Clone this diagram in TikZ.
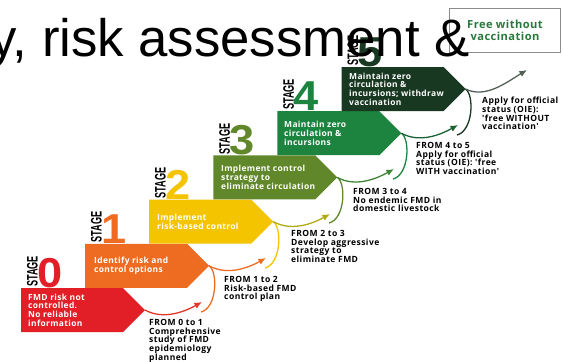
\documentclass[tikz,border=0pt]{standalone}
\usepackage{fontspec}
\setmainfont{Liberation Sans}
\newfontfamily\chevfont[LetterSpace=4]{Open Sans}
\newfontfamily\labfont[LetterSpace=5]{Open Sans}
\usetikzlibrary{arrows.meta}
\definecolor{s0}{RGB}{226,30,38}
\definecolor{s1}{RGB}{238,108,34}
\definecolor{s2}{RGB}{245,196,0}
\definecolor{s3}{RGB}{96,136,42}
\definecolor{s4}{RGB}{28,132,62}
\definecolor{s5}{RGB}{24,56,34}
\definecolor{ftxt}{RGB}{40,120,60}
\newcommand\chev[4]{%
  \fill[#3] (#1,#2-22) -- (#1+102,#2-22) -- (#1+124,#2) -- (#1+102,#2+22) -- (#1,#2+22) -- cycle;
  \coordinate (#4) at (#1+124,#2);}
\newcommand\stagelab[4]{%
  \node[stagew] (sw#4) at (#1+16.5,#2-23) {\scalebox{0.6}[1]{STAGE}};
  \node[digit, text=#3] (dg#4) at (#1+16,#2-22.5) {\scalebox{1.08}[1]{#4}};}
\begin{document}
\begin{tikzpicture}[x=0.03cm,y=-0.03cm,
  chevtext/.style={anchor=west, align=left, inner sep=0, text=white,
    font=\chevfont\bfseries\fontsize{7.2}{7.4}\selectfont},
  lab/.style={anchor=north west, align=left, inner sep=0,
    font=\labfont\bfseries\fontsize{7.3}{7.4}\selectfont},
  stagew/.style={rotate=90, anchor=base west, inner sep=0,
    font=\bfseries\fontsize{13}{13}\selectfont},
  digit/.style={anchor=base west, inner sep=0,
    font=\bfseries\fontsize{35.7}{36}\selectfont},
  rise/.style={line width=1.1pt, -{Latex[length=6.5pt,width=5.5pt]}},
  desc/.style={line width=1.1pt}]
\useasboundingbox (0,0) rectangle (563,361);
\fill[white] (0,0) rectangle (563,361);
% chevrons
\chev{21}{310}{s0}{t0}
\chev{85.1}{265.8}{s1}{t1}
\chev{149.2}{221.6}{s2}{t2}
\chev{213.3}{177.4}{s3}{t3}
\chev{277.4}{133.2}{s4}{t4}
\chev{341.5}{89}{s5}{t5}
% stage labels
\stagelab{21}{310}{s0}{0}
\stagelab{85.1}{265.8}{s1}{1}
\stagelab{149.2}{221.6}{s2}{2}
\stagelab{213.3}{177.4}{s3}{3}
\stagelab{277.4}{133.2}{s4}{4}
\stagelab{341.5}{89}{s5}{5}
% arrow end points
\coordinate (p0) at (202,302);
\coordinate (p1) at (266,258);
\coordinate (p2) at (330,214);
\coordinate (p3) at (394,169);
\coordinate (p4) at (458,125);
\coordinate (p5) at (527,70);
\coordinate (d1) at (201,312);
\coordinate (d2) at (265,268);
\coordinate (d3) at (329,223);
\coordinate (d4) at (393,179);
\coordinate (d5) at (457,135);
% descending curves
\draw[desc, s1] (t1) .. controls +(9,6) and +(16,-4) .. (d1);
\draw[desc, s2] (t2) .. controls +(9,6) and +(16,-4) .. (d2);
\draw[desc, s3] (t3) .. controls +(9,6) and +(16,-4) .. (d3);
\draw[desc, s4] (t4) .. controls +(9,6) and +(16,-4) .. (d4);
\draw[desc, s5] (t5) .. controls +(9,6) and +(16,-4) .. (d5);
% rising arrows
\draw[rise, s0!70!s1] (t0) .. controls +(18,10) and +(-18,10) .. (p0);
\draw[rise, s1] (t1) .. controls +(18,10) and +(-18,10) .. (p1);
\draw[rise, s2!55!s3] (t2) .. controls +(18,10) and +(-18,10) .. (p2);
\draw[rise, s3!50!s4] (t3) .. controls +(18,10) and +(-18,10) .. (p3);
\draw[rise, s4!55!s5] (t4) .. controls +(18,10) and +(-18,10) .. (p4);
\draw[rise, s5!45!gray] (t5) .. controls +(20,10) and +(-20,12) .. (p5);
% chevron texts
\node[chevtext] (c0) at (28,310) {FMD risk not\\controlled.\\No reliable\\information};
\node[chevtext] (c1) at (94,265.8) {Identify risk and\\control options};
\node[chevtext] (c2) at (157,221.6) {Implement\\risk-based control};
\node[chevtext] (c3) at (221,177.4) {Implement control\\strategy to\\eliminate circulation};
\node[chevtext] (c4) at (284,133.2) {Maintain zero\\circulation \&\\incursions};
\node[chevtext] (c5) at (349,89) {Maintain zero\\circulation \&\\incursions; withdraw\\vaccination};
% transition labels
\node[lab] (l0) at (149,319) {FROM 0 to 1\\Comprehensive\\study of FMD\\epidemiology\\planned};
\node[lab] (l1) at (224,276) {FROM 1 to 2\\Risk-based FMD\\control plan};
\node[lab] (l2) at (291,230) {FROM 2 to 3\\Develop aggressive\\strategy to\\eliminate FMD};
\node[lab] (l3) at (353,188) {FROM 3 to 4\\No endemic FMD in\\domestic livestock};
\node[lab] (l4) at (416,142) {FROM 4 to 5\\Apply for official\\status (OIE): 'free\\WITH vaccination'};
\node[lab] (l5) at (482,97) {Apply for official\\status (OIE):\\'free WITHOUT\\vaccination'};
% final box
\node[draw=black!45, fill=white, line width=0.5pt, minimum width=95pt, minimum height=38pt,
  inner sep=0, align=center, text=ftxt,
  font=\chevfont\bfseries\fontsize{9.5}{10.2}\selectfont] (free) at (505,30.5) {Free without\\vaccination};
% title
\node[anchor=base east, inner sep=0, font=\fontsize{45}{50}\selectfont] (title) at (470,56) {y, risk assessment \&};
\end{tikzpicture}
\end{document}
